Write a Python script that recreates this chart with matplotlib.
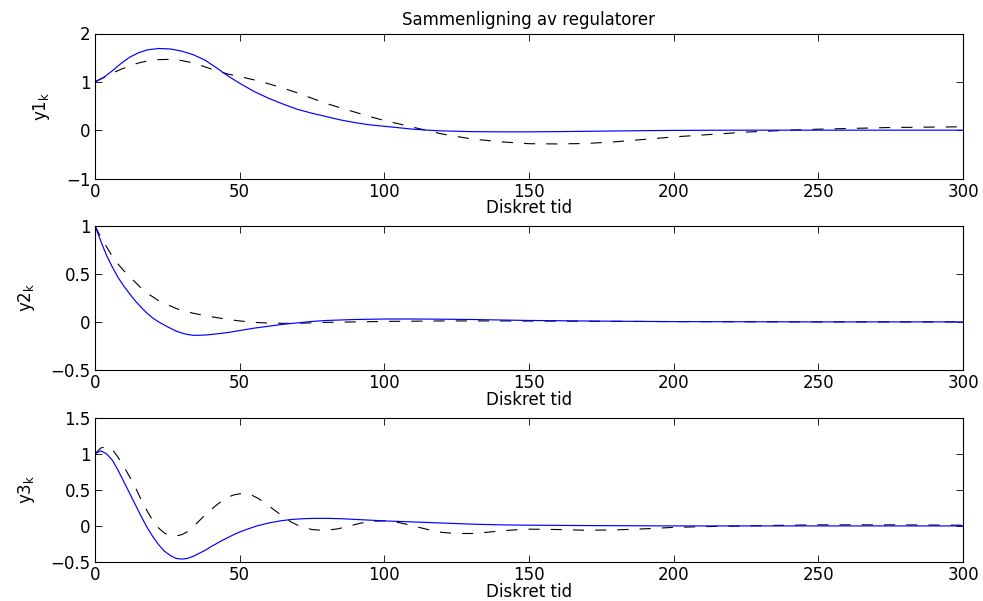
import matplotlib
matplotlib.use("Agg")
import matplotlib.pyplot as plt

# ---------------- data ----------------
x1_solid = [0, 3, 6, 9, 12, 15, 18, 22, 26, 30, 34, 38, 42, 46, 50, 55, 60, 65, 70, 75,
            80, 85, 90, 95, 100, 105, 110, 115, 120, 130, 140, 150, 160, 175, 190, 200,
            225, 250, 275, 300]
y1_solid = [1.0, 1.09, 1.23, 1.38, 1.51, 1.60, 1.66, 1.69, 1.68, 1.635, 1.56, 1.45, 1.29,
            1.12, 0.97, 0.80, 0.66, 0.54, 0.43, 0.35, 0.28, 0.21, 0.155, 0.11, 0.08, 0.05,
            0.02, 0.0, -0.015, -0.03, -0.035, -0.035, -0.03, -0.02, -0.01, -0.005,
            0.0, 0.0, 0.0, 0.0]
x1_dash = [0, 3, 6, 9, 12, 15, 18, 22, 26, 30, 34, 38, 42, 46, 50, 55, 60, 65, 70, 75,
           80, 85, 90, 95, 100, 105, 110, 115, 120, 130, 140, 150, 160, 170, 180, 190,
           200, 210, 225, 240, 250, 275, 300]
y1_dash = [1.0, 1.09, 1.18, 1.26, 1.33, 1.39, 1.43, 1.46, 1.465, 1.44, 1.39, 1.31, 1.23,
           1.16, 1.11, 1.04, 0.96, 0.87, 0.77, 0.66, 0.55, 0.46, 0.37, 0.28, 0.20, 0.13,
           0.06, -0.01, -0.08, -0.18, -0.24, -0.28, -0.285, -0.275, -0.24, -0.19,
           -0.14, -0.10, -0.04, 0.0, 0.02, 0.055, 0.07]

x2_solid = [0, 2, 4, 6, 8, 10, 12, 14, 16, 18, 20, 22, 25, 28, 31, 34, 38, 42, 46, 50,
            55, 60, 65, 70, 75, 80, 90, 100, 110, 120, 130, 140, 150, 175, 200, 250, 300]
y2_solid = [1.0, 0.84, 0.69, 0.57, 0.46, 0.37, 0.29, 0.215, 0.15, 0.09, 0.04, 0.0, -0.05,
            -0.095, -0.125, -0.14, -0.137, -0.125, -0.11, -0.09, -0.065, -0.045, -0.025,
            -0.01, 0.005, 0.015, 0.025, 0.03, 0.03, 0.028, 0.025, 0.02, 0.015, 0.008,
            0.003, 0.0, 0.0]
x2_dash = [0, 2, 4, 6, 8, 10, 12, 14, 16, 18, 20, 22, 25, 28, 31, 34, 38, 42, 46, 50,
           55, 60, 65, 70, 75, 80, 90, 100, 120, 140, 160, 200, 250, 300]
y2_dash = [1.0, 0.88, 0.78, 0.68, 0.60, 0.53, 0.47, 0.41, 0.35, 0.30, 0.26, 0.22, 0.18,
           0.14, 0.11, 0.09, 0.065, 0.045, 0.025, 0.01, -0.005, -0.012, -0.015, -0.014,
           -0.01, -0.005, 0.0, 0.005, 0.01, 0.01, 0.008, 0.003, 0.0, 0.0]

x3_solid = [0, 2, 4, 6, 8, 10, 12, 14, 16, 18, 20, 22, 24, 26, 28, 30, 32, 34, 36, 38,
            40, 42, 44, 46, 48, 50, 53, 56, 60, 64, 68, 72, 76, 80, 85, 90, 95, 100,
            110, 120, 130, 140, 150, 170, 200, 250, 300]
y3_solid = [1.0, 1.04, 1.0, 0.91, 0.77, 0.61, 0.45, 0.29, 0.13, -0.02, -0.15, -0.26,
            -0.35, -0.41, -0.45, -0.46, -0.45, -0.42, -0.38, -0.34, -0.29, -0.245, -0.20,
            -0.16, -0.12, -0.085, -0.04, 0.0, 0.04, 0.07, 0.09, 0.10, 0.105, 0.105, 0.10,
            0.09, 0.08, 0.07, 0.055, 0.04, 0.025, 0.015, 0.01, 0.005, 0.0, 0.0, 0.0]
x3_dash = [0, 2, 4, 6, 8, 10, 12, 14, 16, 18, 20, 22, 24, 26, 28, 30, 32, 34, 36, 38,
           40, 42, 44, 46, 48, 50, 52, 54, 56, 58, 60, 62, 64, 66, 68, 70, 72, 75, 78,
           81, 84, 88, 92, 96, 100, 104, 108, 112, 116, 120, 125, 130, 135, 140, 145,
           150, 160, 170, 180, 190, 200, 210, 225, 240, 250, 275, 300]
y3_dash = [1.0, 1.08, 1.10, 1.06, 0.95, 0.82, 0.68, 0.53, 0.36, 0.21, 0.07, -0.03,
           -0.10, -0.135, -0.14, -0.12, -0.08, -0.01, 0.07, 0.15, 0.22, 0.29, 0.35,
           0.40, 0.43, 0.445, 0.45, 0.43, 0.39, 0.34, 0.28, 0.22, 0.16, 0.10, 0.05,
           0.01, -0.02, -0.05, -0.06, -0.055, -0.04, 0.0, 0.04, 0.065, 0.07, 0.055,
           0.02, -0.02, -0.06, -0.09, -0.105, -0.105, -0.09, -0.07, -0.055, -0.045,
           -0.05, -0.06, -0.055, -0.04, -0.02, -0.01, 0.0, 0.01, 0.015, 0.015, 0.01]

xticks = [0, 50, 100, 150, 200, 250, 300]
xticklabels = ["0", "50", "100", "150", "200", "250", "300"]
yticks1 = [-1, 0, 1, 2]
yticklabels1 = ["\u22121", "0", "1", "2"]
yticks2 = [-0.5, 0, 0.5, 1]
yticklabels2 = ["\u22120.5", "0", "0.5", "1"]
yticks3 = [-0.5, 0, 0.5, 1, 1.5]
yticklabels3 = ["\u22120.5", "0", "0.5", "1", "1.5"]

title = "Sammenligning av regulatorer"
xlabel = "Diskret tid"
ylabels = ["y1$_\\mathrm{k}$", "y2$_\\mathrm{k}$", "y3$_\\mathrm{k}$"]

# ---------------- style ----------------
plt.rcParams["font.family"] = ["DejaVu Sans"]
plt.rcParams["mathtext.fontset"] = "dejavusans"
plt.rcParams["font.size"] = 12
plt.rcParams["lines.scale_dashes"] = False

fig = plt.figure(figsize=(9.83, 6.01), dpi=100)
fig.patch.set_facecolor("white")

W, H = 983.0, 601.0
left_px, right_px = 95, 963
boxes = [(33.5, 178.5), (225.7, 370.0), (417.7, 562.0)]

series = [
    (x1_solid, y1_solid, x1_dash, y1_dash, (-1, 2), yticks1, yticklabels1),
    (x2_solid, y2_solid, x2_dash, y2_dash, (-0.5, 1), yticks2, yticklabels2),
    (x3_solid, y3_solid, x3_dash, y3_dash, (-0.5, 1.5), yticks3, yticklabels3),
]

for i, ((top, bot), (xs, ys, xd, yd, ylim, yt, ytl)) in enumerate(zip(boxes, series)):
    ax = fig.add_axes([left_px / W, 1 - bot / H, (right_px - left_px) / W, (bot - top) / H])
    ax.plot(xd, yd, color="black", lw=0.8, dashes=(8, 8))
    ax.plot(xs, ys, color="blue", lw=0.85)
    ax.set_xlim(0, 300)
    ax.set_ylim(*ylim)
    ax.set_xticks(xticks)
    ax.set_xticklabels(xticklabels)
    ax.set_yticks(yt)
    ax.set_yticklabels(ytl)
    ax.tick_params(direction="in", top=True, right=True, length=5, width=0.6,
                   labelsize=12, pad=3)
    for sp in ax.spines.values():
        sp.set_linewidth(0.8)
        sp.set_color("black")
    ax.set_xlabel(xlabel, fontsize=12, labelpad=-1)
    ax.set_ylabel(ylabels[i], fontsize=12, labelpad=10)
    if i == 0:
        ax.set_title(title, fontsize=12, pad=6)

fig.savefig("out.png", dpi=100, facecolor="white")
